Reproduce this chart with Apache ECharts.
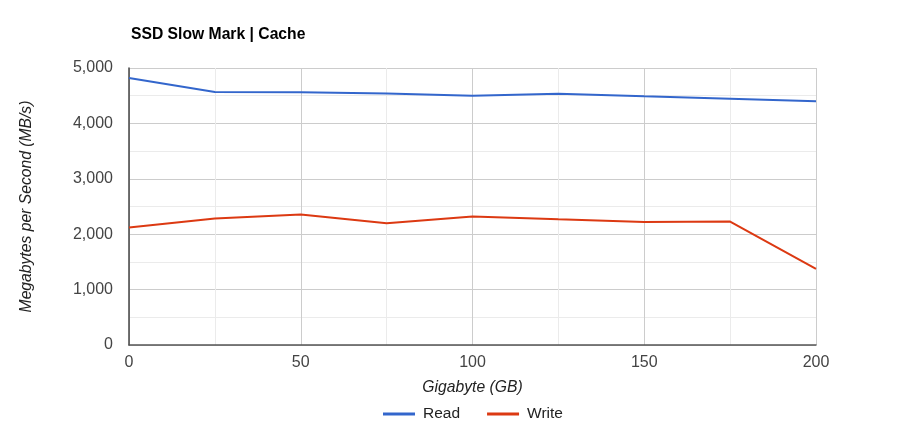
<!DOCTYPE html>
<html><head><meta charset="utf-8">
<script src="https://cdn.jsdelivr.net/npm/echarts@6/dist/echarts.min.js"></script>
<style>html,body{margin:0;padding:0;background:#fff}#c{width:908px;height:440px}</style>
</head><body><div id="c"></div>
<script>
const gigabytes = [0, 25, 50, 75, 100, 125, 150, 175, 200];
const readValues = [4819, 4567, 4563, 4541, 4500, 4536, 4488, 4446, 4398];
const writeValues = [2122, 2283, 2357, 2196, 2320, 2270, 2222, 2228, 1376];
const seriesNames = ['Read', 'Write'];
const chart = echarts.init(document.getElementById('c'));
const font = 'Arial, "Liberation Sans", sans-serif';
chart.setOption({
  animation: false,
  title: {text: 'SSD Slow Mark | Cache', left: 126, top: 22,
    textStyle: {fontFamily: font, fontSize: 15.7, fontWeight: 'bold', color: '#000'}},
  legend: {bottom: 13, left: 378, itemWidth: 32, itemHeight: 3, itemGap: 27,
    icon: 'rect',
    textStyle: {fontFamily: font, fontSize: 15.5, color: '#222', padding: [0, 0, 0, 3]},
    data: seriesNames},
  grid: {left: 129, right: 92, top: 68, bottom: 95},
  xAxis: {type: 'value', min: 0, max: 200, interval: 50,
    name: 'Gigabyte (GB)', nameLocation: 'middle', nameGap: 35,
    nameTextStyle: {fontFamily: font, fontSize: 15.7, fontStyle: 'italic', color: '#222'},
    axisLine: {show: true, onZero: false, lineStyle: {color: '#555', width: 1.5}}, axisTick: {show: false},
    axisLabel: {fontFamily: font, fontSize: 16, color: '#444', margin: 10},
    splitLine: {lineStyle: {color: '#ccc'}},
    minorTick: {show: false, splitNumber: 2},
    minorSplitLine: {show: true, lineStyle: {color: '#ebebeb'}}},
  yAxis: {type: 'value', min: 0, max: 5000, interval: 1000,
    name: 'Megabytes per Second (MB/s)', nameLocation: 'middle', nameGap: 94,
    nameTextStyle: {fontFamily: font, fontSize: 15.7, fontStyle: 'italic', color: '#222'},
    axisLine: {show: true, lineStyle: {color: '#444', width: 1.5}}, axisTick: {show: false},
    axisLabel: {fontFamily: font, fontSize: 16, color: '#444', margin: 16,
      formatter: v => v.toLocaleString('en-US')},
    splitLine: {lineStyle: {color: '#ccc'}},
    minorTick: {show: false, splitNumber: 2},
    minorSplitLine: {show: true, lineStyle: {color: '#ebebeb'}}},
  series: [
    {name: seriesNames[0], type: 'line', data: gigabytes.map((g, i) => [g, readValues[i]]),
      symbol: 'none', lineStyle: {width: 2, color: '#3366cc'}, itemStyle: {color: '#3366cc'}},
    {name: seriesNames[1], type: 'line', data: gigabytes.map((g, i) => [g, writeValues[i]]),
      symbol: 'none', lineStyle: {width: 2, color: '#dc3912'}, itemStyle: {color: '#dc3912'}}
  ]
});
</script></body></html>
